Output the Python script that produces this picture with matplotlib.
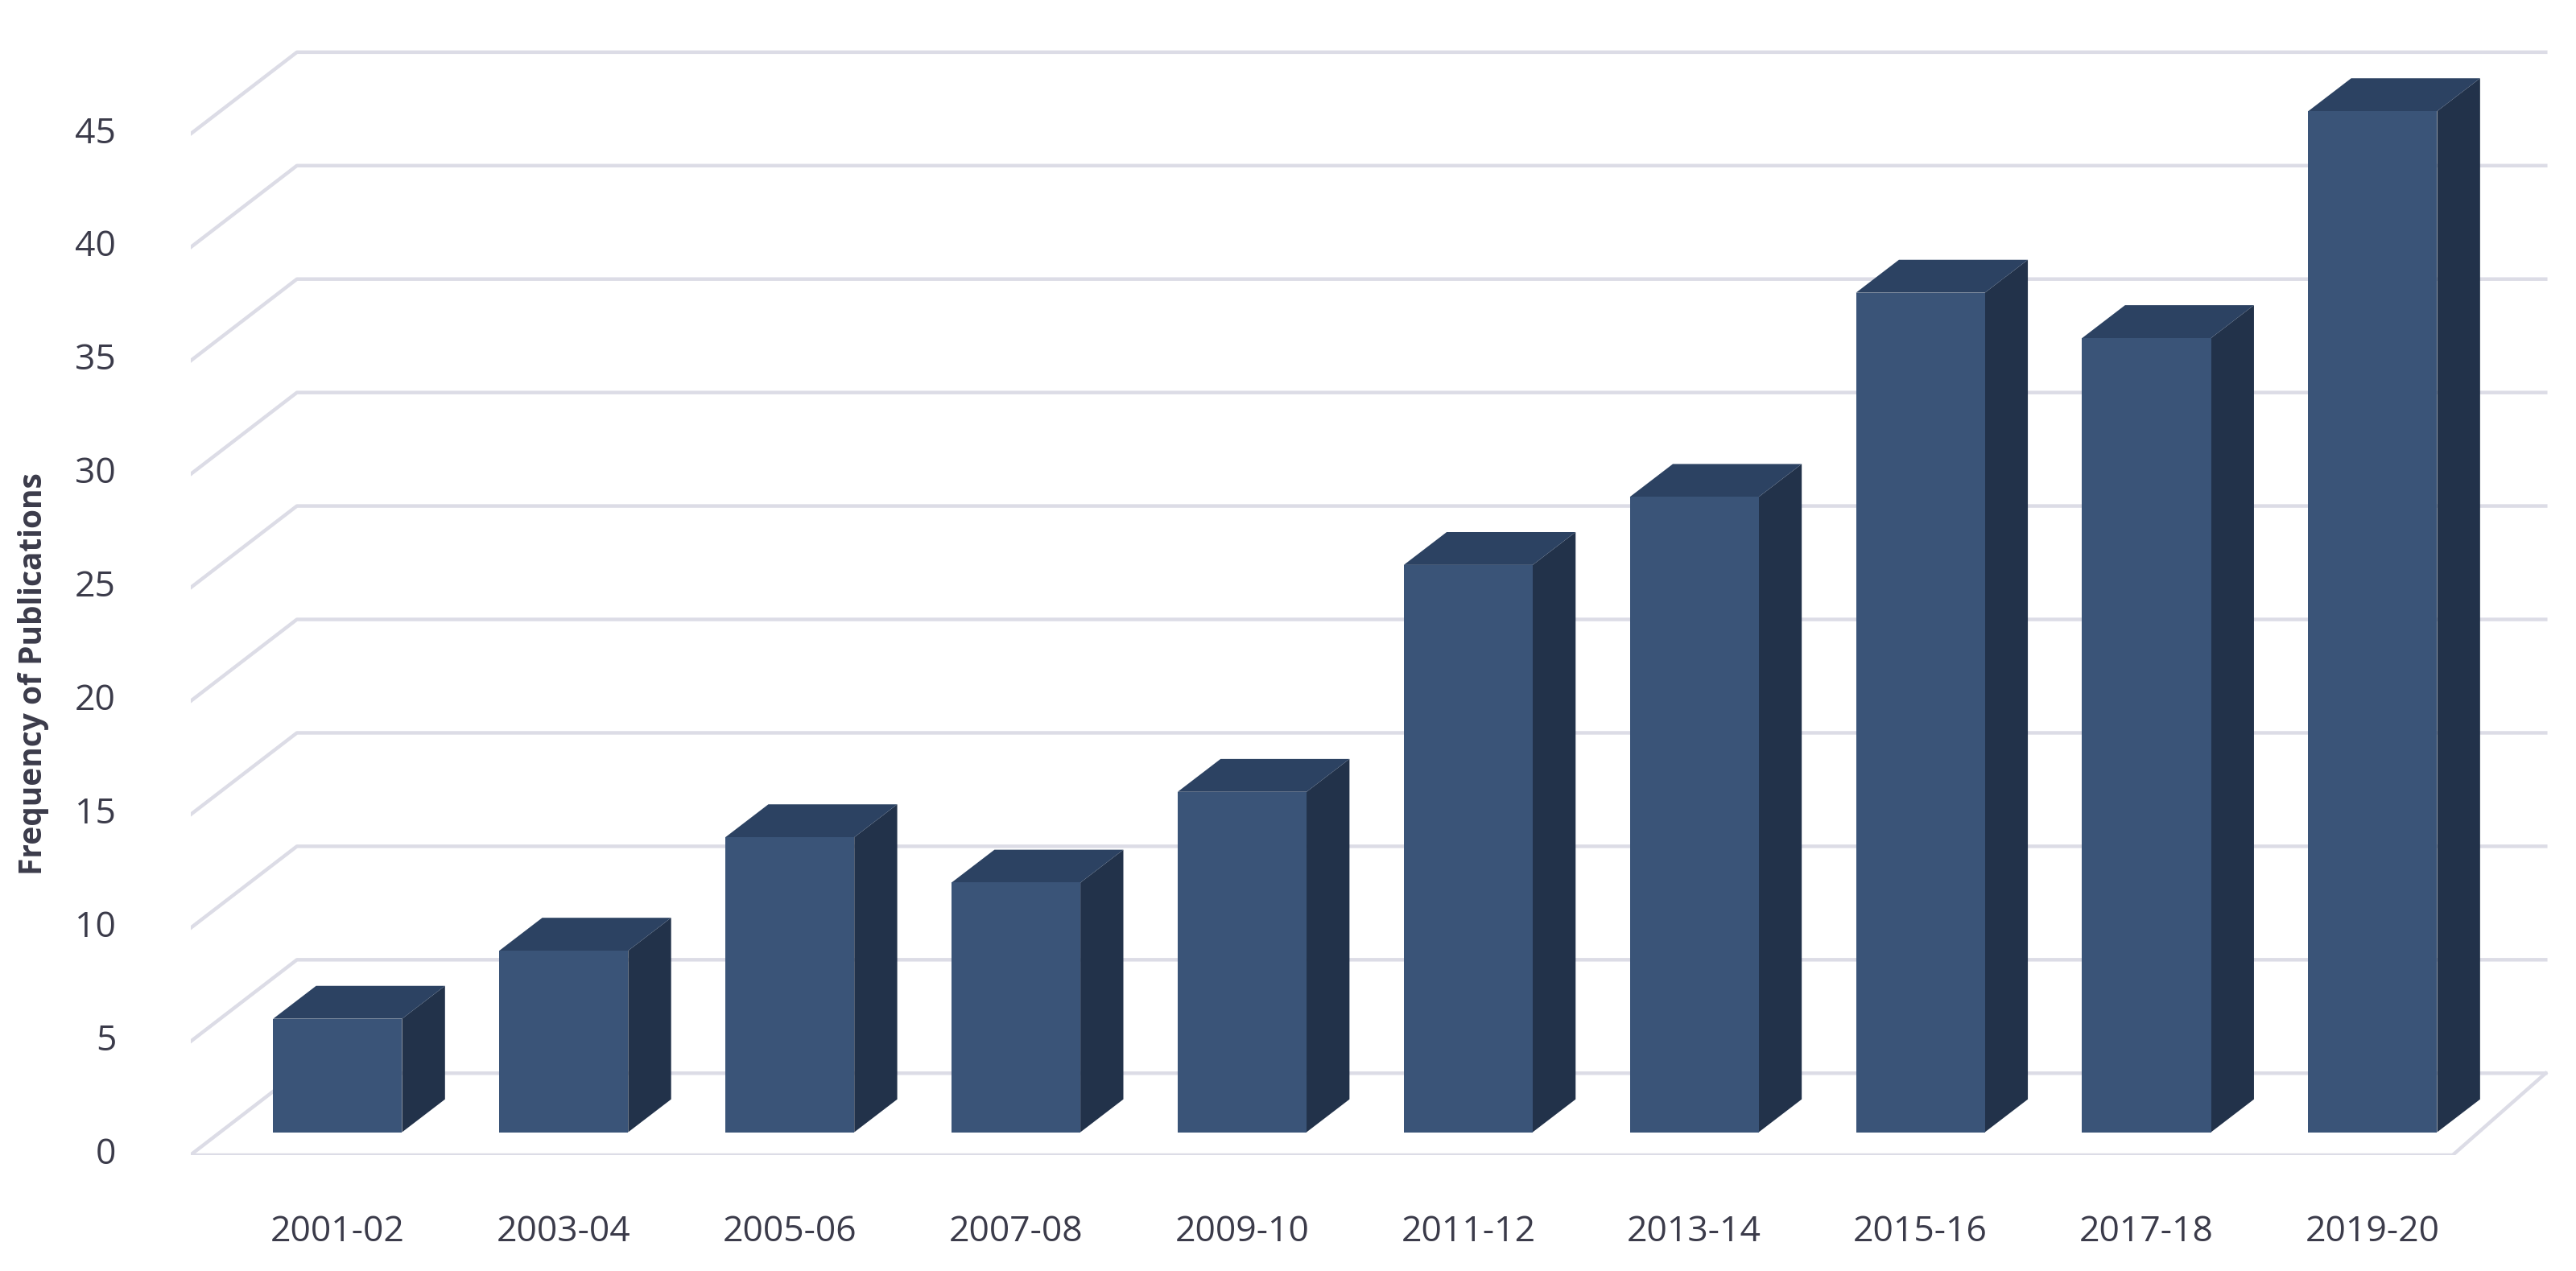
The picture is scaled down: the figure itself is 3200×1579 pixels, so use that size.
import matplotlib
matplotlib.use("Agg")
from matplotlib import pyplot as plt
from matplotlib.patches import Polygon

periods = ['2001-02', '2003-04', '2005-06', '2007-08', '2009-10',
           '2011-12', '2013-14', '2015-16', '2017-18', '2019-20']
counts = [5, 8, 13, 11, 15, 25, 28, 37, 35, 45]
yticks = [0, 5, 10, 15, 20, 25, 30, 35, 40, 45]

plt.rcParams['font.family'] = ['Open Sans', 'DejaVu Sans']
txt = '#3b3b4a'
front_c, side_c, top_c = '#3a5478', '#22324a', '#2c4262'
grid_c = '#dcdce6'

fig = plt.figure(figsize=(16, 7.895), dpi=200)
ax = fig.add_axes([0.074, 0.091, 0.923, 0.909])
ax.set_xlim(-0.365, 10.15)
ax.set_ylim(-1.02, 49.9)
ax.axis('off')

# perspective offsets (data units)
floor = -1.0
wall_dx, wall_dy = 0.47, 3.6
bar_w, dep_x, dep_y = 0.57, 0.19, 1.45
x0, x_end, x_floor = -0.365, 10.05, 9.64

for v in yticks:
    yf = v + floor
    ax.plot([x0, x0 + wall_dx, x_end], [yf, yf + wall_dy, yf + wall_dy],
            color=grid_c, lw=1.6, zorder=1)
    ax.text(x0 - 0.33, yf, str(v), ha='right', va='center', fontsize=16, color=txt)
ax.plot([x0, x_floor], [floor, floor], color=grid_c, lw=1.6, zorder=1)
ax.plot([x_floor, x_end], [floor, floor + wall_dy], color=grid_c, lw=1.6, zorder=1)

for i, (lab, v) in enumerate(zip(periods, counts)):
    x = float(i)
    ax.add_patch(Polygon([(x + bar_w, 0), (x + bar_w + dep_x, dep_y),
                          (x + bar_w + dep_x, v + dep_y), (x + bar_w, v)],
                         closed=True, fc=side_c, ec='none', zorder=3))
    ax.add_patch(Polygon([(x, v), (x + bar_w, v), (x + bar_w + dep_x, v + dep_y),
                          (x + dep_x, v + dep_y)],
                         closed=True, fc=top_c, ec='none', zorder=3))
    ax.bar(x, v, width=bar_w, align='edge', color=front_c, zorder=4)
    ax.text(x + bar_w / 2, -4.4, lab, ha='center', va='center', fontsize=16,
            color=txt, clip_on=False)

fig.text(0.013, 0.47, 'Frequency of Publications', rotation=90, ha='center',
         va='center', fontsize=14, fontweight='bold', color=txt)

fig.savefig('out.png', dpi=200, facecolor='white')
